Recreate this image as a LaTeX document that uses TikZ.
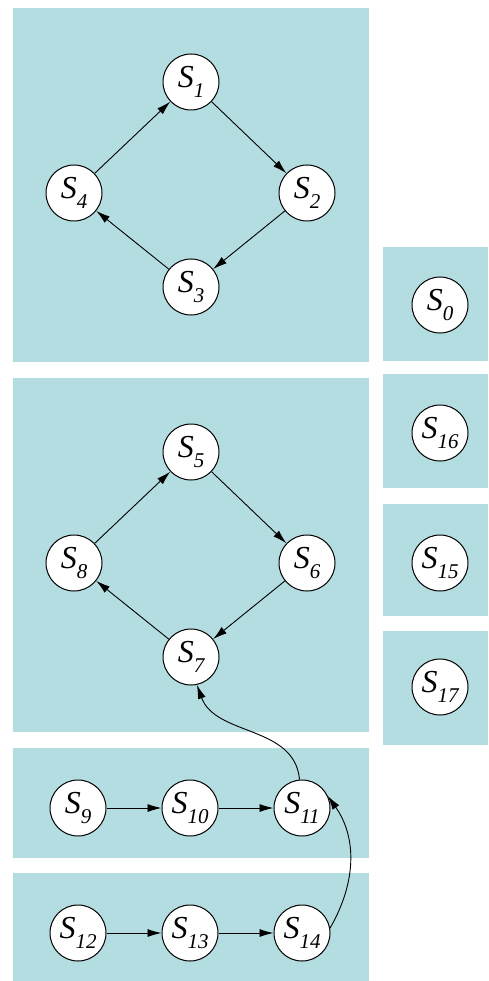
\documentclass[tikz,border=0pt]{standalone}
\usepackage{fontspec}
\setmainfont{Liberation Serif}
\usetikzlibrary{arrows.meta}
\definecolor{panel}{RGB}{180,221,225}
\newcommand{\sn}[1]{\itshape S\raisebox{-0.32em}{\fontsize{21}{21}\selectfont #1}}
\tikzset{
  st/.style={circle, draw=black, fill=white, line width=1pt, minimum size=56pt, inner sep=0pt, font=\fontsize{32}{34}\selectfont},
  pn/.style={fill=panel, draw=none},
  ar/.style={line width=0.9pt, -{Latex[length=14pt,width=8pt]}}
}
\begin{document}
\begin{tikzpicture}[x=1pt,y=-1pt]
\useasboundingbox (0,0) rectangle (488,981);
\fill[white] (0,0) rectangle (488,981);
% panels
\fill[pn] (13,8) rectangle (369,362);
\fill[pn] (13,378) rectangle (369,732);
\fill[pn] (13,748) rectangle (369,858);
\fill[pn] (13,873) rectangle (369,981);
\fill[pn] (383,247) rectangle (488,361);
\fill[pn] (383,374) rectangle (488,488);
\fill[pn] (383,504) rectangle (488,616);
\fill[pn] (383,631) rectangle (488,745);
% nodes
\node[st] (s1) at (191,82) {\sn{1}};
\node[st] (s2) at (307,193) {\sn{2}};
\node[st] (s3) at (191,287) {\sn{3}};
\node[st] (s4) at (74,193) {\sn{4}};
\node[st] (s5) at (191,452) {\sn{5}};
\node[st] (s6) at (307,563) {\sn{6}};
\node[st] (s7) at (191,657) {\sn{7}};
\node[st] (s8) at (74,563) {\sn{8}};
\node[st] (s9) at (78,808) {\sn{9}};
\node[st] (s10) at (190,808) {\sn{10}};
\node[st] (s11) at (302,808) {\sn{11}};
\node[st] (s12) at (78,933) {\sn{12}};
\node[st] (s13) at (190,933) {\sn{13}};
\node[st] (s14) at (302,933) {\sn{14}};
\node[st] (s0) at (440,305) {\sn{0}};
\node[st] (s16) at (440,433) {\sn{16}};
\node[st] (s15) at (440,563) {\sn{15}};
\node[st] (s17) at (440,687) {\sn{17}};
% edges
\draw[ar] (s1) -- (s2);
\draw[ar] (s2) -- (s3);
\draw[ar] (s3) -- (s4);
\draw[ar] (s4) -- (s1);
\draw[ar] (s5) -- (s6);
\draw[ar] (s6) -- (s7);
\draw[ar] (s7) -- (s8);
\draw[ar] (s8) -- (s5);
\draw[ar] (s9) -- (s10);
\draw[ar] (s10) -- (s11);
\draw[ar] (s12) -- (s13);
\draw[ar] (s13) -- (s14);
\draw[ar] (s14.10) to[out=60,in=-55] (s11.25);
\draw[ar] (s11.95) to[out=95,in=-70] (s7.-78);
\end{tikzpicture}
\end{document}
